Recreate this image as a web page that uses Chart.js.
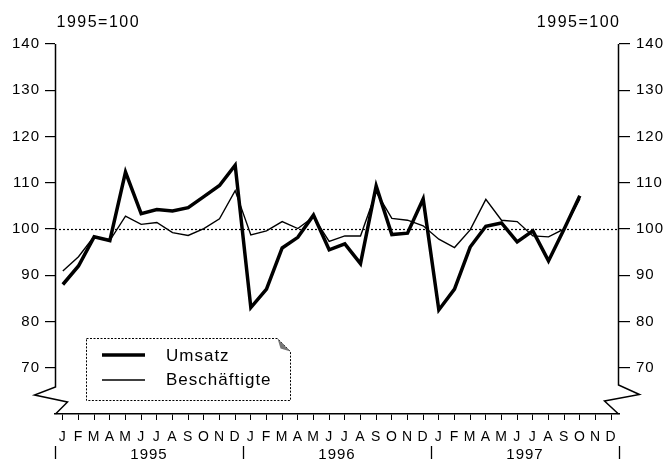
<!DOCTYPE html>
<html>
<head>
<meta charset="utf-8">
<script src="https://cdn.jsdelivr.net/npm/chart.js@4"></script>
<style>
  html, body { margin: 0; padding: 0; background: #fff; }
  canvas { display: block; }
</style>
</head>
<body>
<canvas id="chart" width="672" height="464"></canvas>
<script>
const monthLetters = ['J', 'F', 'M', 'A', 'M', 'J', 'J', 'A', 'S', 'O', 'N', 'D'];
const years = ['1995', '1996', '1997'];
const labels = [...monthLetters, ...monthLetters, ...monthLetters];

// Umsatz (thick line), Jan 1995 - Oct 1997
const umsatz = [
  88, 92, 98.3, 97.5, 112.3, 103.3, 104.2, 103.9, 104.6, 107, 109.4, 113.8,
  83, 87, 95.9, 98.2, 103, 95.5, 96.8, 92.5, 109.3, 98.8, 99.1, 106.5,
  82.5, 87, 96.1, 100.6, 101.3, 97.2, 99.6, 93.1, 100, 107.2, null, null
];
// Beschäftigte (thin line)
const beschaeftigte = [
  90.9, 94, 98.4, 97.5, 102.8, 101, 101.4, 99.2, 98.6, 100.1, 102.2, 108.3,
  98.7, 99.6, 101.6, 100.1, 102.6, 97.3, 98.5, 98.5, 108, 102.3, 101.9, 100.7,
  97.8, 96, 99.8, 106.4, 101.9, 101.6, 98.5, 98.3, 100, 106.5, null, null
];
const yTicks = [70, 80, 90, 100, 110, 120, 130, 140];
const baseLine = 100;
const unitLabel = '1995=100';

const ink = '#000';
const fontFamily = '"Liberation Sans", Arial, Helvetica, sans-serif';
Chart.defaults.font.family = fontFamily;
Chart.defaults.color = ink;

const decor = {
  id: 'decor',
  beforeDraw(chart) {
    chart.ctx.letterSpacing = '1px';
  },
  beforeDatasetsDraw(chart) {
    const { ctx, chartArea, scales } = chart;
    const y = Math.round(scales.y.getPixelForValue(baseLine)) + 0.5;
    ctx.save();
    ctx.strokeStyle = ink;
    ctx.lineWidth = 1.2;
    ctx.setLineDash([2, 2]);
    ctx.beginPath();
    ctx.moveTo(chartArea.left, y);
    ctx.lineTo(chartArea.right, y);
    ctx.stroke();
    ctx.restore();
  },
  afterDraw(chart) {
    const { ctx, chartArea, scales } = chart;
    const L = chartArea.left + 0.5, R = chartArea.right - 0.5;
    const T = chartArea.top, B = chartArea.bottom;
    ctx.save();
    ctx.strokeStyle = ink;
    ctx.fillStyle = ink;
    ctx.lineWidth = 1.5;
    ctx.lineJoin = 'miter';

    // left axis with break mark
    ctx.beginPath();
    ctx.moveTo(L, T);
    ctx.lineTo(L, B - 27);
    ctx.lineTo(L - 21, B - 19);
    ctx.lineTo(L + 12, B - 12);
    ctx.lineTo(L, B);
    ctx.stroke();

    // right axis with break mark
    ctx.beginPath();
    ctx.moveTo(R, T);
    ctx.lineTo(R, B - 29);
    ctx.lineTo(R + 21, B - 19.5);
    ctx.lineTo(R - 14, B - 13);
    ctx.lineTo(R, B);
    ctx.stroke();

    // unit labels
    ctx.letterSpacing = '1.5px';
    ctx.font = '16px ' + fontFamily;
    ctx.textBaseline = 'alphabetic';
    ctx.textAlign = 'left';
    ctx.fillText(unitLabel, L + 1, 27);
    ctx.textAlign = 'right';
    ctx.fillText(unitLabel, R + 2, 27);

    // year labels and separators
    ctx.letterSpacing = '1px';
    ctx.font = '15px ' + fontFamily;
    ctx.textAlign = 'center';
    years.forEach((yr, i) => {
      const x = scales.x.getPixelForValue(i * 12 + 5.5);
      ctx.fillText(yr, x, 459);
    });
    ctx.lineWidth = 1.3;
    for (let i = 0; i <= years.length; i++) {
      const x = Math.round(scales.x.getPixelForValue(i * 12 - 0.5)) + 0.5;
      ctx.beginPath();
      ctx.moveTo(x, 446);
      ctx.lineTo(x, 459);
      ctx.stroke();
    }

    // legend box with folded corner
    const bx0 = 86.5, by0 = 338.5, bx1 = 290.5, by1 = 400.5, fold = 13;
    ctx.lineWidth = 1;
    ctx.setLineDash([2, 1.5]);
    ctx.beginPath();
    ctx.moveTo(bx0, by0);
    ctx.lineTo(bx1 - fold, by0);
    ctx.lineTo(bx1, by0 + fold);
    ctx.lineTo(bx1, by1);
    ctx.lineTo(bx0, by1);
    ctx.closePath();
    ctx.stroke();
    ctx.setLineDash([]);
    ctx.fillStyle = '#777';
    ctx.beginPath();
    ctx.moveTo(bx1 - fold, by0);
    ctx.lineTo(bx1, by0 + fold);
    ctx.lineTo(bx1 - fold + 3, by0 + fold - 3);
    ctx.closePath();
    ctx.fill();

    ctx.fillStyle = ink;
    ctx.font = '17px ' + fontFamily;
    ctx.textAlign = 'left';
    const rows = [355, 380];
    const baselines = [361, 385];
    chart.data.datasets.forEach((ds, i) => {
      ctx.lineWidth = ds.borderWidth;
      ctx.beginPath();
      ctx.moveTo(102, rows[i]);
      ctx.lineTo(145, rows[i]);
      ctx.stroke();
      ctx.fillText(ds.label, 166, baselines[i]);
    });
    ctx.restore();
  }
};

new Chart(document.getElementById('chart'), {
  type: 'line',
  data: {
    labels: labels,
    datasets: [
      {
        label: 'Umsatz',
        data: umsatz,
        borderColor: ink,
        borderWidth: 3.5,
        borderJoinStyle: 'miter',
        pointRadius: 0,
        tension: 0,
        yAxisID: 'y'
      },
      {
        label: 'Beschäftigte',
        data: beschaeftigte,
        borderColor: ink,
        borderWidth: 1.4,
        borderJoinStyle: 'miter',
        pointRadius: 0,
        tension: 0,
        yAxisID: 'y'
      }
    ]
  },
  options: {
    responsive: false,
    animation: false,
    layout: { padding: { top: 44, left: 0, right: 0, bottom: 0 } },
    plugins: {
      legend: { display: false },
      tooltip: { enabled: false }
    },
    scales: {
      x: {
        type: 'category',
        offset: true,
        grid: { offset: false, drawOnChartArea: false, tickLength: 6, color: ink, lineWidth: 1 },
        border: { display: true, color: ink, width: 1.5 },
        ticks: { autoSkip: false, maxRotation: 0, padding: 9, font: { size: 14 }, color: ink },
        afterFit: s => { s.height = 50; }
      },
      y: {
        position: 'left',
        min: 60,
        max: 140,
        grid: { drawOnChartArea: false, tickLength: 10, color: ink, lineWidth: 1.2 },
        border: { display: false },
        ticks: { stepSize: 10, padding: 5, font: { size: 15 }, color: ink },
        afterBuildTicks: s => { s.ticks = yTicks.map(v => ({ value: v })); },
        afterFit: s => { s.width = 55; }
      },
      y2: {
        position: 'right',
        min: 60,
        max: 140,
        grid: { drawOnChartArea: false, tickLength: 11, color: ink, lineWidth: 1.2 },
        border: { display: false },
        ticks: { stepSize: 10, padding: 6, font: { size: 15 }, color: ink },
        afterBuildTicks: s => { s.ticks = yTicks.map(v => ({ value: v })); },
        afterFit: s => { s.width = 53; }
      }
    }
  },
  plugins: [decor]
});
</script>
</body>
</html>
